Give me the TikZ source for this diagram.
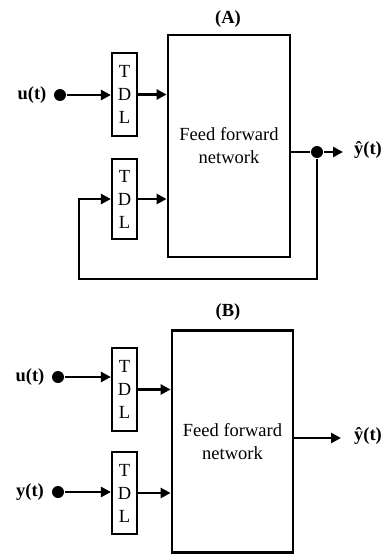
\documentclass[tikz,border=0pt]{standalone}
\usepackage{fontspec}
\setmainfont{Liberation Serif}
\usetikzlibrary{arrows.meta}
\begin{document}
\begin{tikzpicture}[x=1pt,y=-1pt, line width=2.5pt,
  >={Triangle[length=10pt,width=10pt]},
  tdl/.style={draw, line width=2.2pt, minimum width=25pt, minimum height=83pt, inner sep=0pt, align=center, font=\fontsize{18.5}{23}\selectfont},
  ffn/.style={draw, line width=2.8pt, inner sep=0pt, align=center, font=\fontsize{18.5}{23}\selectfont},
  dot/.style={circle, fill, inner sep=0pt, minimum size=12pt},
  lbl/.style={font=\bfseries\fontsize{18.5}{22}\selectfont, inner sep=0pt}]
\useasboundingbox (0,0) rectangle (383,554);

% ---------- (A) ----------
\node[lbl] (tA) at (228,19) {(A)};
\node[ffn, minimum width=122pt, minimum height=222pt] (ffA) at (229,146) {Feed forward\\network};
\node[tdl] (tdl1) at (124.5,94.5) {T\\D\\L};
\node[tdl, minimum height=80pt] (tdl2) at (124.5,199) {T\\D\\L};
\node[lbl] (uA) at (32,95) {u(t)};
\node[dot] (duA) at (60,95) {};
\node[dot] (dout) at (317,152) {};
\node[lbl] (yhA) at (368,150) {\^y(t)};
\coordinate (oA) at (343,152);
\coordinate (fb1) at (317,279);
\coordinate (fb2) at (79,199);

\draw[->] (duA) -- (tdl1.west |- duA);
\draw[->] (tdl1.east) -- (tdl1.east -| ffA.west);
\draw[->] (tdl2.east) -- (tdl2.east -| ffA.west);
\draw (ffA.east |- dout) -- (dout);
\draw[->] (dout) -- (oA);
\draw[->] (dout) -- (fb1) -| (fb2) -- (tdl2.west);

% ---------- (B) ----------
\node[lbl] (tB) at (228,312) {(B)};
\node[ffn, minimum width=121pt, minimum height=222pt] (ffB) at (232.5,441.5) {Feed forward\\network};
\node[tdl] (tdl3) at (124.5,389.5) {T\\D\\L};
\node[tdl, minimum height=82pt] (tdl4) at (124.5,493) {T\\D\\L};
\node[lbl] (uB) at (30,377) {u(t)};
\node[dot] (duB) at (58,377) {};
\node[lbl] (yB) at (30,492) {y(t)};
\node[dot] (dyB) at (58,492) {};
\node[lbl] (yhB) at (368,436) {\^y(t)};
\coordinate (oB) at (341,438);

\draw[->] (duB) -- (tdl3.west |- duB);
\draw[->] (tdl3.east) -- (tdl3.east -| ffB.west);
\draw[->] (dyB) -- (tdl4.west |- dyB);
\draw[->] (tdl4.east) -- (tdl4.east -| ffB.west);
\draw[->] (ffB.east |- oB) -- (oB);
\end{tikzpicture}
\end{document}
